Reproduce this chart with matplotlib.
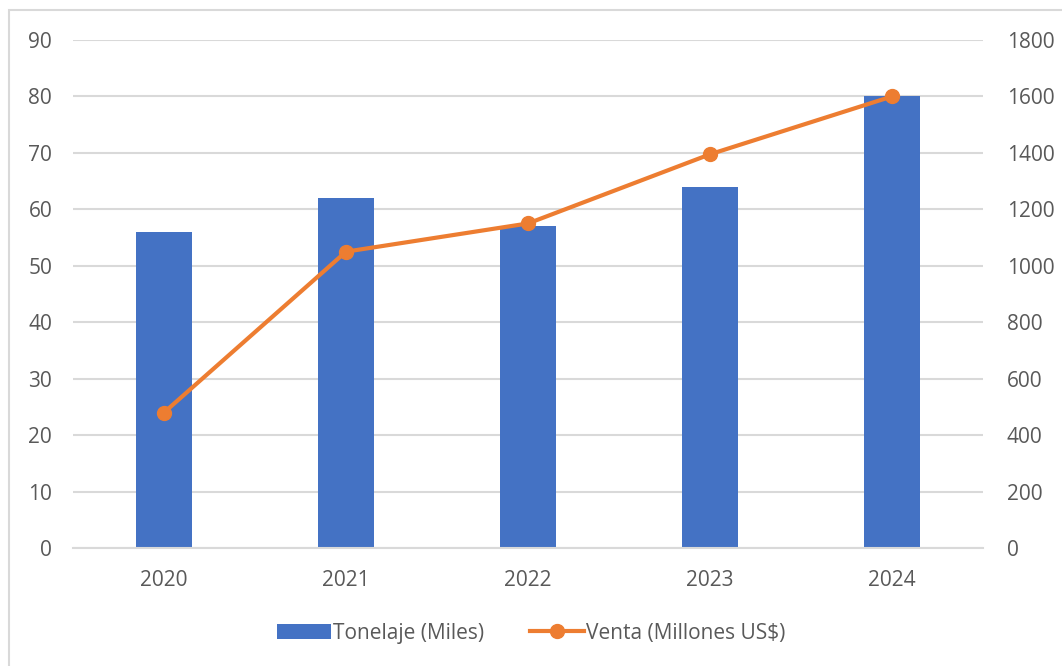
import matplotlib.pyplot as plt
from matplotlib.patches import Rectangle

years = ['2020', '2021', '2022', '2023', '2024']
tonelaje = [56, 62, 57, 64, 80]
venta = [480, 1050, 1150, 1395, 1600]

plt.rcParams['font.family'] = ['Open Sans', 'DejaVu Sans']
txt = '#595959'
grid_c = '#d9d9d9'
fs = 15

fig = plt.figure(figsize=(10.62, 6.66), dpi=100)
fig.patches.append(Rectangle((9 / 1062, -0.1), 1.2, 1 - 10 / 666 + 0.1,
                             transform=fig.transFigure, fill=False,
                             edgecolor=grid_c, lw=1.5))

ax = fig.add_axes([73 / 1062, 1 - 548 / 666, (983 - 73) / 1062, (548 - 40) / 666])
x = range(len(years))
bars = ax.bar(x, tonelaje, width=0.31, color='#4472c4', label='Tonelaje (Miles)', zorder=2)
ax.set_ylim(0, 90)
ax.set_yticks(range(0, 91, 10))
ax.set_xlim(-0.5, 4.5)
ax.set_xticks(list(x))
ax.set_xticklabels(years)
ax.yaxis.grid(True, color=grid_c, lw=1.5, zorder=0)
ax.set_axisbelow(True)
for s in ax.spines.values():
    s.set_visible(False)
ax.spines['bottom'].set_visible(True)
ax.spines['bottom'].set_color(grid_c)
ax.spines['bottom'].set_linewidth(1.5)
ax.tick_params(length=0, labelsize=fs, colors=txt, pad=15)
ax.tick_params(axis='x', pad=16)

ax2 = ax.twinx()
line, = ax2.plot(list(x), venta, color='#ed7d31', lw=3, marker='o', markersize=10,
                 label='Venta (Millones US$)', zorder=3)
ax2.set_ylim(0, 1800)
ax2.set_yticks(range(0, 1801, 200))
for s in ax2.spines.values():
    s.set_visible(False)
ax2.tick_params(length=0, labelsize=fs, colors=txt, pad=17)

fig.legend([bars, line], ['Tonelaje (Miles)', 'Venta (Millones US$)'],
           loc='center', bbox_to_anchor=(0.5, 1 - 633 / 666), ncol=2, frameon=False,
           fontsize=fs, labelcolor=txt, handlelength=2.6, columnspacing=2.2,
           handletextpad=0.1)

fig.savefig('out.png', dpi=100)
